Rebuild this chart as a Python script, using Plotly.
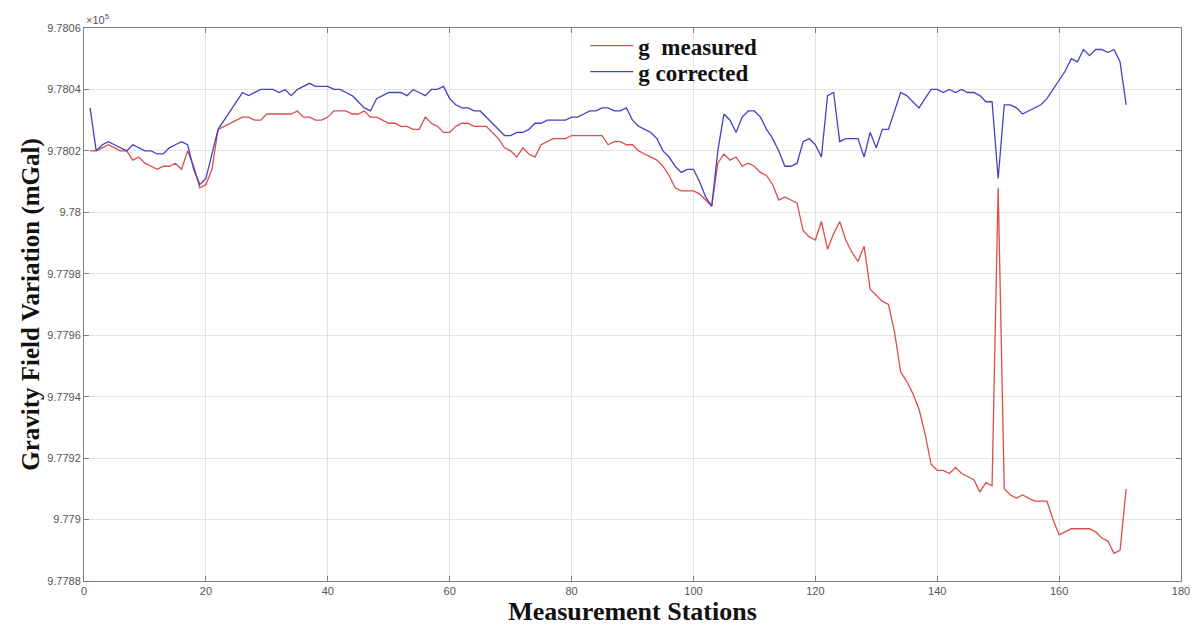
import plotly.graph_objects as go

stations = list(range(1, 172))

g_measured = [
    9.78020, 9.78020, 9.78021, 9.78022, 9.78021, 9.78020, 9.78020, 9.78017, 9.78018, 9.78016,
    9.78015, 9.78014, 9.78015, 9.78015, 9.78016, 9.78014, 9.78020, 9.78015, 9.78008, 9.78009,
    9.78014, 9.78027, 9.78028, 9.78029, 9.78030, 9.78031, 9.78031, 9.78030, 9.78030, 9.78032,
    9.78032, 9.78032, 9.78032, 9.78032, 9.78033, 9.78031, 9.78031, 9.78030, 9.78030, 9.78031,
    9.78033, 9.78033, 9.78033, 9.78032, 9.78032, 9.78033, 9.78031, 9.78031, 9.78030, 9.78029,
    9.78029, 9.78028, 9.78028, 9.78027, 9.78027, 9.78031, 9.78029, 9.78028, 9.78026, 9.78026,
    9.78028, 9.78029, 9.78029, 9.78028, 9.78028, 9.78028, 9.78026, 9.78024, 9.78021, 9.78020,
    9.78018, 9.78021, 9.78019, 9.78018, 9.78022, 9.78023, 9.78024, 9.78024, 9.78024, 9.78025,
    9.78025, 9.78025, 9.78025, 9.78025, 9.78025, 9.78022, 9.78023, 9.78023, 9.78022, 9.78022,
    9.78020, 9.78019, 9.78018, 9.78017, 9.78015, 9.78012, 9.78008, 9.78007, 9.78007, 9.78007,
    9.78006, 9.78004, 9.78002, 9.78016, 9.78019, 9.78017, 9.78018, 9.78015, 9.78016, 9.78015,
    9.78013, 9.78012, 9.78009, 9.78004, 9.78005, 9.78004, 9.78003, 9.77994, 9.77992, 9.77991,
    9.77997, 9.77988, 9.77993, 9.77997, 9.77991, 9.77987, 9.77984, 9.77989, 9.77975, 9.77973,
    9.77971, 9.77970, 9.77961, 9.77948, 9.77945, 9.77941, 9.77936, 9.77928, 9.77918, 9.77916,
    9.77916, 9.77915, 9.77917, 9.77915, 9.77914, 9.77913, 9.77909, 9.77912, 9.77911, 9.78008,
    9.77910, 9.77908, 9.77907, 9.77908, 9.77907, 9.77906, 9.77906, 9.77906, 9.77900, 9.77895,
    9.77896, 9.77897, 9.77897, 9.77897, 9.77897, 9.77896, 9.77894, 9.77893, 9.77889, 9.77890,
    9.77910,
]

g_corrected = [
    9.78034, 9.78020, 9.78022, 9.78023, 9.78022, 9.78021, 9.78020, 9.78022, 9.78021, 9.78020,
    9.78020, 9.78019, 9.78019, 9.78021, 9.78022, 9.78023, 9.78022, 9.78014, 9.78009, 9.78011,
    9.78019, 9.78027, 9.78030, 9.78033, 9.78036, 9.78039, 9.78038, 9.78039, 9.78040, 9.78040,
    9.78040, 9.78039, 9.78040, 9.78038, 9.78040, 9.78041, 9.78042, 9.78041, 9.78041, 9.78041,
    9.78040, 9.78040, 9.78039, 9.78038, 9.78036, 9.78034, 9.78033, 9.78037, 9.78038, 9.78039,
    9.78039, 9.78039, 9.78038, 9.78040, 9.78039, 9.78038, 9.78040, 9.78040, 9.78041, 9.78037,
    9.78035, 9.78034, 9.78034, 9.78033, 9.78033, 9.78031, 9.78029, 9.78027, 9.78025, 9.78025,
    9.78026, 9.78026, 9.78027, 9.78029, 9.78029, 9.78030, 9.78030, 9.78030, 9.78030, 9.78031,
    9.78031, 9.78032, 9.78033, 9.78033, 9.78034, 9.78034, 9.78033, 9.78033, 9.78034, 9.78030,
    9.78028, 9.78027, 9.78026, 9.78024, 9.78020, 9.78018, 9.78015, 9.78013, 9.78014, 9.78014,
    9.78010, 9.78005, 9.78002, 9.78020, 9.78032, 9.78030, 9.78026, 9.78031, 9.78033, 9.78033,
    9.78031, 9.78027, 9.78024, 9.78020, 9.78015, 9.78015, 9.78016, 9.78023, 9.78024, 9.78022,
    9.78018, 9.78038, 9.78039, 9.78023, 9.78024, 9.78024, 9.78024, 9.78018, 9.78026, 9.78021,
    9.78027, 9.78027, 9.78033, 9.78039, 9.78038, 9.78036, 9.78034, 9.78037, 9.78040, 9.78040,
    9.78039, 9.78040, 9.78039, 9.78040, 9.78039, 9.78039, 9.78038, 9.78036, 9.78036, 9.78011,
    9.78035, 9.78035, 9.78034, 9.78032, 9.78033, 9.78034, 9.78035, 9.78037, 9.78040, 9.78043,
    9.78046, 9.78050, 9.78049, 9.78053, 9.78051, 9.78053, 9.78053, 9.78052, 9.78053, 9.78049,
    9.78035,
]

x_ticks = [0, 20, 40, 60, 80, 100, 120, 140, 160, 180]
y_ticks = [9.7788, 9.779, 9.7792, 9.7794, 9.7796, 9.7798, 9.78, 9.7802, 9.7804, 9.7806]
y_tick_labels = ["9.7788", "9.779", "9.7792", "9.7794", "9.7796", "9.7798", "9.78",
                 "9.7802", "9.7804", "9.7806"]

serif = "Liberation Serif, Times New Roman"

fig = go.Figure()
fig.add_trace(go.Scatter(x=stations, y=g_measured, mode="lines",
                         name="<b>g\u00a0 measured</b>", legend="legend",
                         line=dict(color="rgb(222,76,76)", width=1.3)))
fig.add_trace(go.Scatter(x=stations, y=g_corrected, mode="lines",
                         name="<b>g corrected</b>", legend="legend2",
                         line=dict(color="rgb(66,66,200)", width=1.3)))

axis_common = dict(
    showgrid=True, gridcolor="#e3e3e3", gridwidth=1,
    showline=True, linecolor="#7f7f7f", linewidth=1,
    mirror="ticks", ticks="inside", ticklen=5, tickcolor="#7f7f7f",
    tickfont=dict(family="Liberation Sans, Arial", size=11, color="#555555"),
    zeroline=False, automargin=False,
)

fig.update_xaxes(range=[0, 180], tickvals=x_ticks, **axis_common,
                 title=dict(text="<b>Measurement Stations</b>",
                            font=dict(family=serif, size=26, color="#111111"),
                            standoff=0))
fig.update_yaxes(range=[9.7788, 9.7806], tickvals=y_ticks, ticktext=y_tick_labels, **axis_common,
                 title=dict(text="<b>Gravity Field Variation (mGal)</b>",
                            font=dict(family=serif, size=25, color="#111111"),
                            standoff=0))

fig.add_annotation(xref="paper", yref="paper", x=0.0, y=1.0, xanchor="left", yanchor="bottom",
                   text="\u00d710<sup>5</sup>", showarrow=False,
                   font=dict(family="Liberation Sans, Arial", size=11, color="#555555"))

legend_common = dict(xanchor="left", yanchor="middle",
                     bgcolor="rgba(255,255,255,0)", borderwidth=0, itemwidth=43,
                     font=dict(family=serif, size=23, color="#111111"))

fig.update_layout(
    width=1197, height=630,
    margin=dict(l=84, r=16, t=28, b=49),
    paper_bgcolor="white", plot_bgcolor="white",
    showlegend=True,
    legend=dict(x=0.457, y=0.968, **legend_common),
    legend2=dict(x=0.457, y=0.921, **legend_common),
)

fig.write_html("out.html", post_script="document.body.style.margin='0';",
               config={"displayModeBar": False})
